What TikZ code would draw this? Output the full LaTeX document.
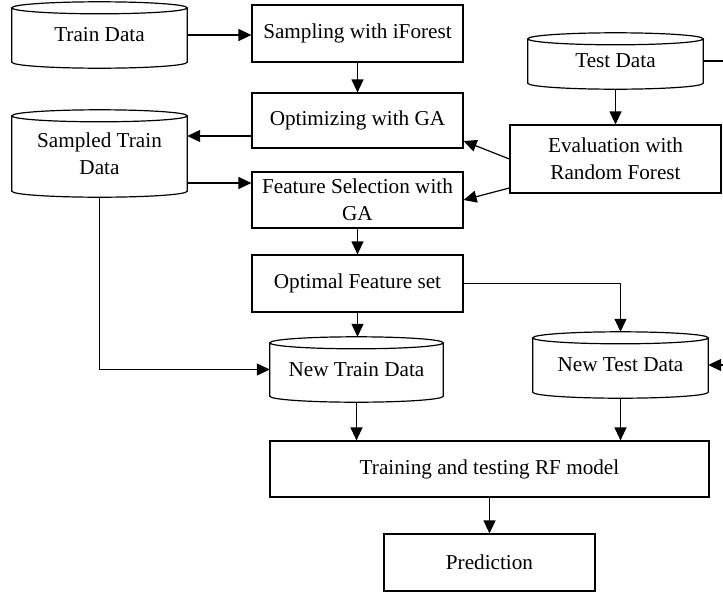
\documentclass[tikz,border=0pt]{standalone}
\usepackage{fontspec}
\setmainfont{Liberation Serif}
\usetikzlibrary{arrows.meta,calc}
\tikzset{
  box/.style={draw, line width=1.2pt, align=center, inner sep=0pt, font=\fontsize{21.2}{27}\selectfont},
  cylbox/.style={align=center, inner sep=0pt, font=\fontsize{21.2}{27}\selectfont},
  conn/.style={line width=1.2pt, -{Triangle[length=13pt,width=12pt]}},
  plain/.style={line width=1.2pt}
}
\newcommand\cylout[1]{%
  \draw[line width=1.2pt] let \p1=(#1.north west), \p2=(#1.south east), \n1={(\x2-\x1)/2} in
    (\x1+\n1,\y1-6pt) ellipse [x radius=\n1, y radius=6pt]
    (\x1,\y1-6pt) -- (\x1,\y2+6pt) arc[start angle=180, end angle=360, x radius=\n1, y radius=6pt] -- (\x2,\y1-6pt);
}
\begin{document}
\begin{tikzpicture}[x=1pt,y=-1pt]
\clip (0,0) rectangle (723,595);
\fill[white] (0,0) rectangle (723,595);
% cylinders
\node[cylbox, minimum width=175pt, minimum height=66pt] (td) at (99.5,35) {Train Data};
\node[cylbox, minimum width=175pt, minimum height=87pt] (std) at (99.5,153.5) {Sampled Train\\Data};
\node[cylbox, minimum width=175pt, minimum height=56pt] (ted) at (615.5,61) {Test Data};
\node[cylbox, minimum width=173pt, minimum height=65pt] (ntd) at (356.5,369.5) {New Train Data};
\node[cylbox, minimum width=175pt, minimum height=66pt] (nted) at (620.5,365) {New Test Data};
\cylout{td}
\cylout{std}
\cylout{ted}
\cylout{ntd}
\cylout{nted}
% boxes
\node[box, minimum width=211pt, minimum height=57pt] (samp) at (357.5,33.5) {Sampling with iForest};
\node[box, minimum width=211pt, minimum height=55pt] (opt) at (357.5,120.5) {Optimizing with GA};
\node[box, minimum width=211pt, minimum height=56pt] (fs) at (357.5,200) {Feature Selection with\\GA};
\node[box, minimum width=211pt, minimum height=68pt] (eval) at (615.5,159) {Evaluation with\\Random Forest};
\node[box, minimum width=211pt, minimum height=57pt] (ofs) at (357.5,283.5) {Optimal Feature set};
\node[box, minimum width=439pt, minimum height=56pt] (trn) at (489.5,469) {Training and testing RF model};
\node[box, minimum width=211pt, minimum height=57pt] (pred) at (489.5,562.5) {Prediction};
% connectors
\draw[conn] (td.east) -- (td.east -| samp.west);
\draw[conn] (samp.south) -- (opt.north);
\draw[conn] ([yshift=-15.5pt]opt.west) -- ([yshift=-15.5pt]opt.west -| std.east);
\draw[conn] ([yshift=17pt]fs.west -| std.east) -- ([yshift=17pt]fs.west);
\draw[conn] (eval.west) -- ([yshift=-20.5pt]opt.east);
\draw[conn] ([yshift=-29pt]eval.west) -- (fs.east);
\draw[conn] (ted.south) -- (ted.south |- eval.north);
\draw[conn] (fs.south) -- (ofs.north);
\draw[conn] (ofs.south) -- (ofs.south |- ntd.north);
\draw[conn] (std.south) |- (ntd.west);
\draw[conn] (ofs.east) -| (nted.north);
\coordinate (rt) at (728,61);
\draw[conn] (ted.east) -- (rt) |- (nted.east);
\draw[conn] (ntd.south) -- (ntd.south |- trn.north);
\draw[conn] (nted.south) -- (nted.south |- trn.north);
\draw[conn] (trn.south) -- (pred.north);
\end{tikzpicture}
\end{document}
